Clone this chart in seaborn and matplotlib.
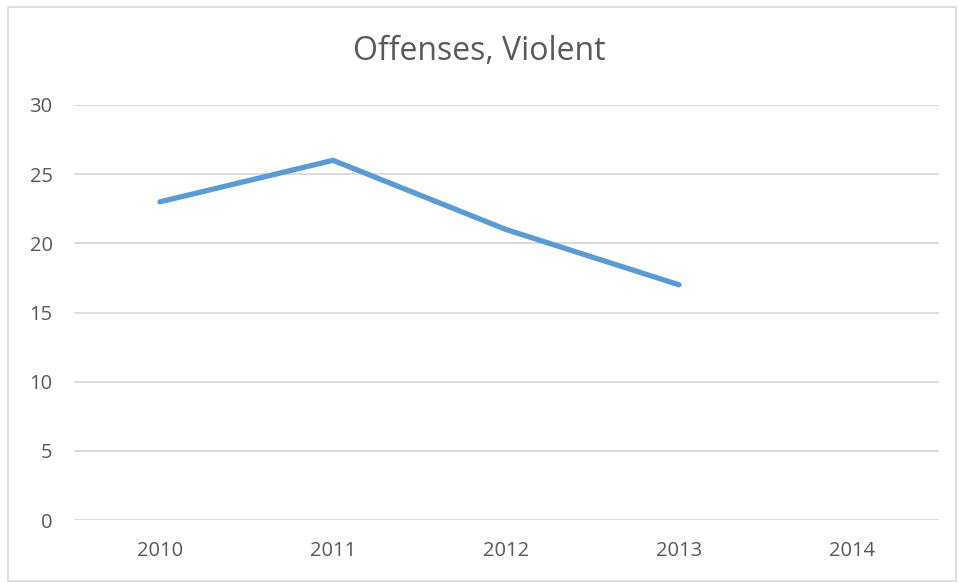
import matplotlib
matplotlib.use("Agg")
import matplotlib.pyplot as plt
import seaborn as sns
import pandas as pd
import numpy as np
from matplotlib.patches import Rectangle

years = ["2010", "2011", "2012", "2013", "2014"]
offenses = [23, 26, 21, 17, np.nan]
title = "Offenses, Violent"

sns.set_theme(style="white")
plt.rcParams['font.family'] = ['Open Sans', 'DejaVu Sans']

df = pd.DataFrame({"year": years, "value": offenses})

fig = plt.figure(figsize=(9.59, 5.83), dpi=100)
ax = fig.add_axes([73.5/959, 1-520/583, 865/959, 415/583])

sns.lineplot(data=df, x="year", y="value", ax=ax, color="#5B9BD5",
             linewidth=3.8, sort=False, solid_capstyle="round", solid_joinstyle="round")

ax.set_xlim(-0.5, 4.5)
ax.set_ylim(0, 30)
ax.set_yticks([0, 5, 10, 15, 20, 25, 30])
ax.yaxis.grid(True, color="#D9D9D9", linewidth=1.3)
ax.set_axisbelow(True)
for s in ax.spines.values():
    s.set_visible(False)
ax.tick_params(axis="both", length=0, labelsize=14.5, labelcolor="#595959")
ax.tick_params(axis="y", pad=15)
ax.tick_params(axis="x", pad=15)
ax.set_xlabel("")
ax.set_ylabel("")
fig.text(0.5, 1-52/583, title, ha="center", va="center", fontsize=23, color="#595959")

fig.patches.append(Rectangle((8/959, 1-581/583), 948/959, 574/583, transform=fig.transFigure,
                             fill=False, edgecolor="#D9D9D9", linewidth=1.2))

fig.savefig("out.png", dpi=100)
